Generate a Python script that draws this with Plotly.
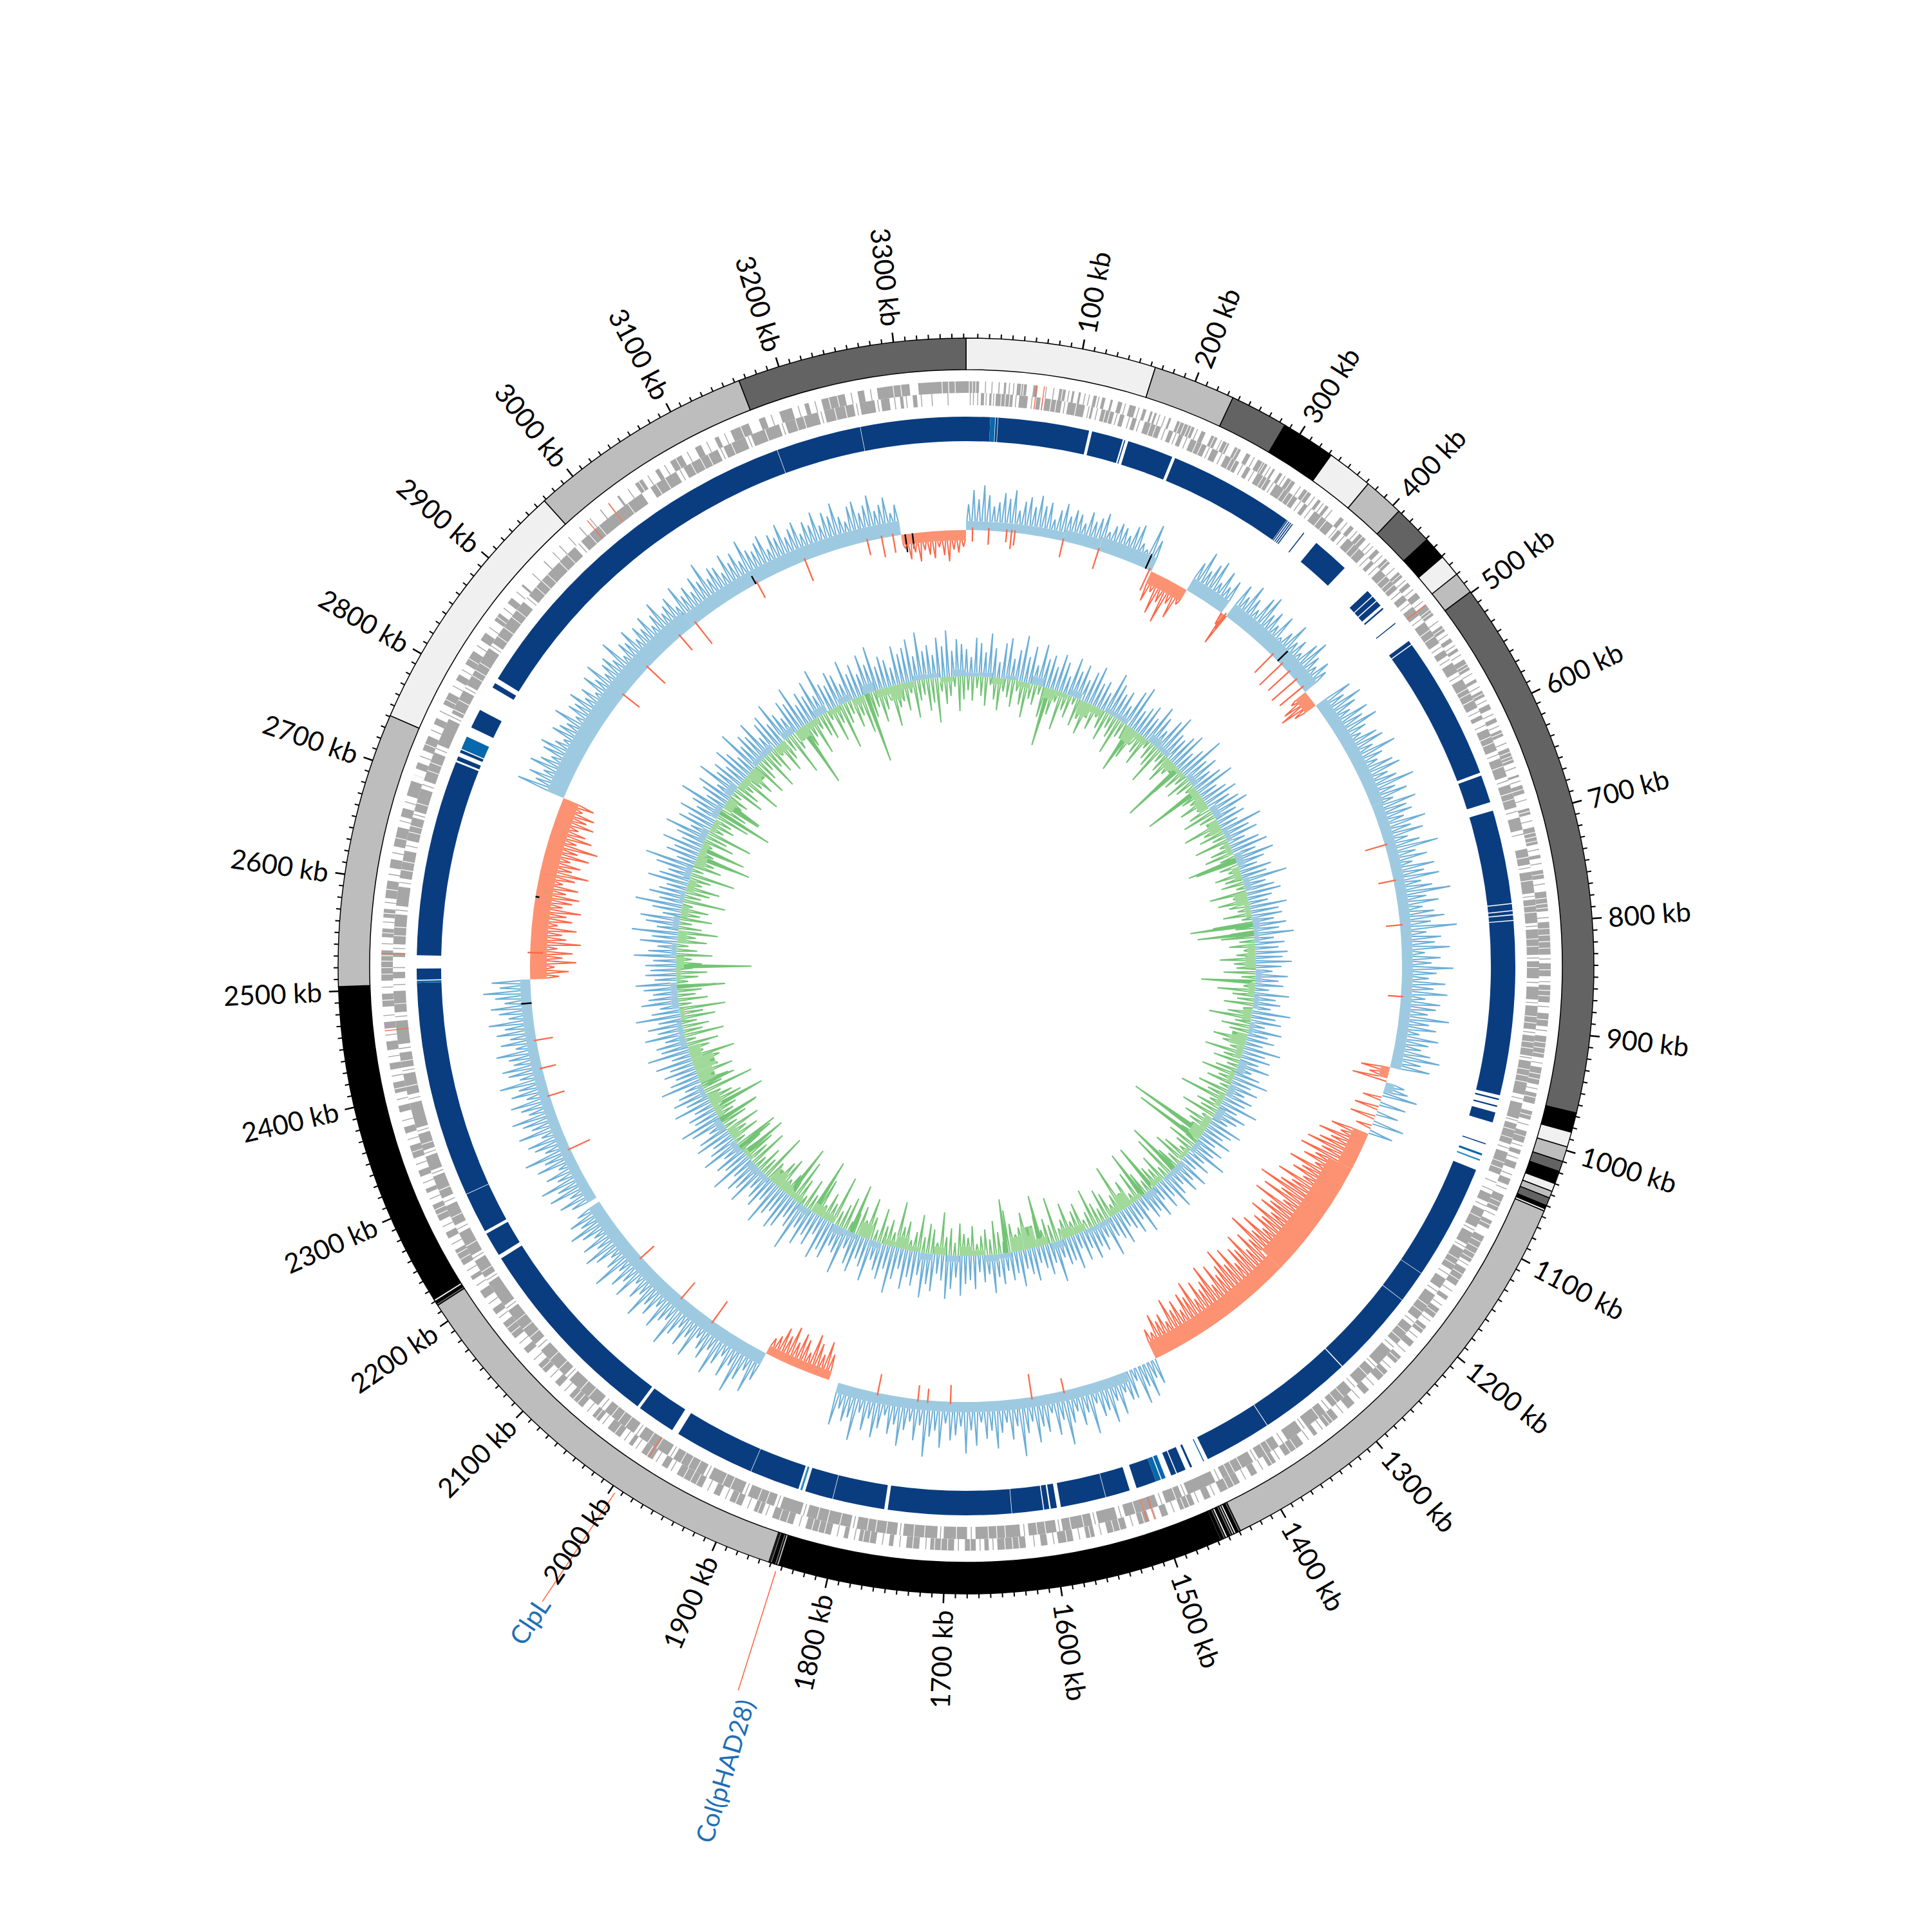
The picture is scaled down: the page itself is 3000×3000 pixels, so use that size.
import math
import plotly.graph_objects as go

GENOME_KB = 3362
TICK_MAJOR_KB = list(range(100, 3301, 100))
TICK_MINOR_KB = [k for k in range(0, 3362, 10) if k % 100]

RING_EDGES = [0,164,235,285,332,372,407,441,461,480,499,967,984,997,1010,1019,1030,1037,1043,1050,1053,1055,
              1439,1441,1443,1445,1447,1449,1451,1453,1455,1457,1458,1843,1845,1847,1849,1851,1852,
              2216,2218,2220,2222,2504,2741,2968,3164,3362]
RING_SHADE = [0,1,2,3,0,1,2,3,0,1,2,3,0,1,2,3,0,1,2,3,0,1,
              2,3,0,1,2,3,0,2,3,0,3,1,2,3,2,0,1,
              2,3,0,3,1,0,1,2]
RING_COLORS = ["#f0f0f0", "#bdbdbd", "#636363", "#000000"]

GENES_OUT = [0,12,30,31,35,37,47,56,62,66,86,92,98,100,104,106,118,121,126,129,134,136,141,145,152,158,165,168,172,174,176,178,190,192,198,215,222,226,232,238,244,250,256,262,268,272,280,290,296,298,303,306,312,320,330,338,346,349,355,358,372,376,384,388,395,403,416,420,428,434,445,451,458,462,470,476,484,496,508,514,522,526,533,536,545,556,566,569,578,584,592,597,606,610,618,624,636,650,662,664,672,680,694,700,712,728,738,741,752,760,772,790,800,830,838,850,858,874,884,896,905,925,934,950,958,968,975,983,994,1005,1012,1016,1024,1030,1040,1046,1056,1072,1082,1090,1098,1125,1132,1150,1162,1166,1176,1186,1196,1204,1214,1220,1232,1240,1250,1262,1274,1280,1292,1300,1312,1326,1336,1340,1352,1372,1382,1390,1402,1408,1420,1440,1450,1456,1466,1480,1492,1498,1510,1520,1532,1550,1562,1570,1582,1596,1606,1612,1626,1652,1660,1664,1672,1682,1692,1714,1724,1736,1748,1752,1764,1780,1790,1794,1806,1830,1842,1862,1872,1880,1892,1904,1914,1920,1932,1958,1968,1974,1984,1996,2006,2010,2020,2034,2044,2052,2064,2080,2092,2098,2110,2120,2134,2140,2152,2170,2180,2186,2198,2206,2218,2222,2234,2250,2262,2268,2280,2296,2308,2312,2324,2330,2342,2354,2366,2372,2386,2392,2404,2414,2426,2432,2444,2452,2464,2470,2484,2496,2508,2536,2548,2556,2566,2574,2584,2600,2612,2620,2632,2650,2660,2668,2680,2694,2706,2712,2724,2738,2750,2756,2770,2782,2795,2801,2812,2826,2838,2846,2860,2868,2880,2886,2900,2902,2930,2931,2950,2951,2975,2976,3000,3001,3020,3022,3040,3048,3062,3066,3078,3090,3104,3110,3124,3128,3140,3158,3168,3174,3188,3200,3212,3216,3228,3250,3262,3268,3280,3310,3318,3362]
GENES_IN = [14,17,22,24,28,44,50,58,66,70,74,90,96,112,118,120,128,140,146,150,158,162,170,186,194,198,204,208,216,232,238,244,252,266,274,278,286,300,306,330,338,342,350,372,378,382,390,412,420,424,432,456,464,470,478,488,496,520,528,534,542,552,560,590,598,602,612,634,642,660,668,690,700,712,730,745,752,772,778,800,806,830,836,852,860,872,878,900,906,925,930,962,970,985,990,1010,1018,1040,1060,1068,1076,1094,1100,1112,1118,1140,1150,1160,1168,1196,1204,1226,1234,1252,1258,1278,1286,1310,1318,1340,1346,1362,1372,1394,1400,1432,1440,1468,1474,1490,1498,1530,1538,1556,1562,1590,1596,1622,1630,1672,1680,1702,1708,1740,1746,1784,1790,1832,1838,1858,1864,1890,1896,1930,1936,1968,1974,2006,2012,2046,2054,2090,2096,2128,2136,2176,2182,2208,2214,2232,2238,2262,2270,2290,2298,2320,2326,2340,2346,2362,2368,2392,2400,2420,2426,2440,2448,2470,2478,2498,2510,2516,2530,2534,2542,2570,2578,2596,2604,2630,2640,2662,2668,2690,2698,2726,2734,2760,2766,2790,2796,2836,2842,2890,2898,2960,2968,3040,3050,3078,3086,3122,3128,3150,3156,3184,3190,3222,3228,3256,3262,3276,3282,3290,3300,3303,3312,3316]
GENE_CUTS_OUT = [3,6,9,51,53,89,201,205,209,212,235,248,259,285,287,316,334,399,431,448,490,493,511,550,553,581,621,640,644,647,676,697,717,721,725,756,778,783,787,806,812,818,824,844,863,868,890,911,916,921,940,945,962,979,999,1063,1068,1086,1104,1110,1116,1121,1138,1144,1181,1200,1236,1255,1318,1322,1360,1366,1386,1426,1432,1471,1476,1515,1538,1544,1566,1588,1632,1638,1645,1677,1698,1704,1710,1730,1770,1776,1812,1818,1824,1848,1855,1876,1898,1938,1944,1951,1990,2026,2048,2070,2075,2115,2158,2164,2240,2246,2286,2291,2348,2408,2490,2514,2520,2526,2531,2552,2570,2592,2640,2700,2730,2775,2818,2864,3044,3084,3150,3235,3243,3295,3302,3340,3346,3352]
GENE_CUTS_IN = [33,37,41,80,85,104,132,136,176,181,222,227,258,262,292,296,315,320,325,358,364,398,404,440,446,451,505,512,570,575,582,620,626,650,676,682,720,738,760,784,790,815,822,842,888,894,912,918,938,944,950,996,1004,1028,1034,1084,1128,1134,1180,1188,1212,1220,1266,1296,1304,1326,1380,1386,1412,1420,1426,1480,1512,1520,1570,1582,1606,1614,1644,1652,1660,1690,1720,1730,1756,1766,1774,1800,1812,1822,1872,1880,1908,1916,1944,1952,1960,1986,1996,2022,2030,2038,2066,2076,2104,2116,2144,2154,2164,2220,2248,2278,2306,2352,2408,2432,2486,2550,2558,2612,2620,2648,2654,2676,2708,2716,2770,2780,2806,2812,2820,2850,2860,2872,2880,2908,2916,2924,2940,2950,2978,2990,3010,3024,3056,3066,3094,3104,3112,3136,3170,3200,3208,3238,3248]
GENE_THIN_OUT = [18,24,40,44,74,81,95,110,114,123,148,161,181,186,218,242,276,293,309,326,342,352,362,380,392,408,412,424,440,455,466,480,503,518,530,540,560,574,588,602,614,631,655,668,686,706,733,746,765,796,834,855,878,900,930,954,988,1008,1020,1036,1050,1076,1128,1156,1172,1190,1209,1226,1246,1268,1286,1306,1330,1346,1378,1396,1414,1446,1462,1486,1504,1526,1556,1576,1600,1618,1656,1668,1688,1718,1742,1758,1784,1800,1836,1868,1886,1908,1926,1964,1980,2002,2015,2040,2058,2086,2104,2126,2146,2176,2192,2212,2228,2256,2274,2302,2318,2336,2360,2378,2398,2420,2438,2458,2476,2502,2542,2562,2580,2606,2626,2656,2674,2700,2718,2744,2763,2776,2789,2806,2832,2852,2874,2893,2915,2942,2962,2988,3010,3032,3054,3072,3096,3116,3134,3180,3206,3222,3256,3274,3288,3296,3304]
GENE_THIN_IN = [4,7,11,19,26,47,62,72,93,116,124,143,155,165,190,201,212,235,248,270,282,303,334,346,376,386,416,428,460,474,492,524,538,556,594,608,638,664,694,716,748,775,803,833,856,875,903,927,966,987,1014,1048,1056,1072,1097,1115,1145,1164,1200,1230,1255,1282,1314,1343,1367,1397,1436,1471,1494,1534,1559,1593,1626,1676,1705,1743,1787,1835,1861,1893,1933,1971,2009,2050,2093,2132,2179,2211,2235,2266,2294,2323,2343,2365,2396,2423,2444,2474,2504,2520,2538,2574,2600,2635,2665,2694,2730,2763,2793,2839,2855,2870,2895,2905,2925,2945,2965,3000,3030,3056,3082,3125,3153,3187,3225,3259,3279,3295,3306,3320,3330,3345]
GENE_TOMATO_KB = [65, 72, 484, 1505, 1512, 1988, 2533, 2462, 2985, 3010]

BLUE_RING = [0,23.7,29,31,31.5,121,124,155,156.5,157.5,160.5,206,209,333.6,334,335,336,337,338,339,340,341,354,355,370,407,
             438.6,445,446,451,452,457.6,460.5,462,479.5,480.5,501.6,505.5,506.5,648,651,678.4,687,779,780,786,787,790,791,795.6,796.5,967.7,
             971,972.5,978,979.5,985,995,1016.5,1017.5,1044,1158,1158.5,1190,1190.5,1277,1278,1370,1370.7,1437,1454,1456,1461,1470,1471,1476,
             1492,1512,1519,1543,1543.5,1588,1592,1598,1599.5,1604.5,1605.5,1636,1636.5,1757.6,1761,1812,1812.5,1840,1847,1896,1896.5,1976,
             1983,2021,2024,2221,2225,2249,2252,2292,2292.5,2505,2508,2519,2532,2725,2727,2731,2735,2738,2762,2781,2806,2811,2816,3174,3174.5,3258,3258.5,3362]
MID_RING = [23.7,28.5,1027,1029,1441,1442,1482,1486,1487,1492,2505,2507,2739,2752]
MID_RING2 = [1033,1034.5,1843,1845]

COV_RANGES = [(0,235),(235,284),(284,335),(335,342),(342,477),(477,498),(498,966),(966,985),(985,997),(997,1052),
              (1052,1440),(1440,1480),(1480,1840),(1852,1936),(1936,2216),(2222,2505),(2505,2733),(2733,3282),(3282,3362)]
COV_VALUES = [
 [40,62,48,70,55,38,45,60,52,66,35,50,58,44,63,48,55,30,46,58,40,52,47,35,55,42,50,60,33,45,52,48,38,56,62,35,28,72,50],
 [-48,-30,-62,-40,-70,-35,-55,-28],
 [50,72,45,60,70,38,62,40,55],
 [-20,-52],
 [60,45,70,52,38,66,74,48,58,40,63,30,46,68,42,52,35,60,72,50,38,55,44],
 [-30,-48,-58,-38],
 [62,45,70,55,40,66,52,72,48,35,58,64,42,76,50,38,60,68,44,55,80,46,62,36,70,52,58,42,74,48,65,38,55,82,44,60,35,68,50,72,42,58,85,46,64,38,55,70,48,88,40,62,52,75,36,60,46,80,54,42,68,50,72,38,62,56,44,78,48,60,35,66,52,42,58,74,46,62],
 [-45,-30,-55],
 [30,38],
 [55,-30,42,-38,35,-40,50,-25,38],
 [-60,-42,-75,-52,-68,-85,-58,-90,-62,-78,-55,-95,-70,-82,-60,-100,-72,-88,-120,-78,-105,-65,-112,-80,-92,-68,-100,-75,-85,-62,-95,-72,-108,-66,-84,-58,-92,-70,-78,-55,-88,-64,-96,-72,-60,-82,-52,-90,-68,-58,-76,-50,-84,-62,-72,-48,-68,-56,-78,-44,-60,-52,-66,-40,-48],
 [40,28,55,35,60,20,45],
 [45,30,62,38,70,48,55,32,78,42,60,36,52,85,44,66,30,58,48,72,38,55,90,42,62,35,50,74,46,58,32,68,44,80,38,52,60,34,72,46,56,88,40,64,36,50,76,44,60,32,54,70,42,62,36,82,48,56,38,66],
 [-40,-58,-35,-50,-62,-30,-48,-55,-38,-60,-42,-52,-35,-28],
 [48,72,40,60,85,45,68,38,56,78,42,62,50,36,74,46,66,40,58,82,44,52,70,38,60,48,76,42,55,34,68,46,62,40,80,50,36,58,72,44,64,38,54,70,46,60,42],
 [42,58,36,66,48,72,40,55,30,62,46,75,38,52,60,34,68,44,56,70,40,50,64,36,58,44,72,38,54,62,42,48,66,34,56,40,60,46,70,38,52,64,42,56,74,48,60],
 [-45,-60,-38,-72,-50,-66,-42,-78,-55,-48,-70,-40,-62,-52,-74,-44,-58,-68,-46,-64,-38,-56,-76,-48,-60,-42,-70,-50,-80,-44,-66,-54,-40,-62,-48,-58,-36,-52],
 [78,52,66,46,72,58,44,62,70,50,40,64,56,48,74,42,60,54,68,46,58,38,66,50,72,44,56,62,48,76,40,58,52,68,44,60,50,66,42,56,72,46,54,62,40,70,48,58,44,64,52,78,46,60,56,42,68,50,62,44,74,54,48,58,66,40,60,52,70,46,56,64,42,58,50,68,44,62,54,72,48,38,60,66,46,56,70,44,52,62,36,48],
 [-22,-40,-30,-45,-28,-36,-42,-25,-38,-48,-30,-35,-26],
]
COV_FILL_START = [0,120,165,235,284,335,342,477,498,640,966,985,1052,1100,1250,1480,1852,1936,2222,2505,2733,3000,3282]
COV_FILL_END = [120,165,235,284,335,342,477,498,640,966,980,997,1100,1250,1440,1840,1936,2216,2505,2733,3000,3282,3362]
COV_FILL_LEVEL = [14,18,22,-20,22,-12,24,-20,20,17,-14,14,-25,-40,-28,16,-14,20,16,-26,28,22,-16]
COV_DIP_KB = [8,28,50,56,60,120,165,232,340,416,432,445,458,470,690,735,790,878,1560,1600,1700,1728,1740,1790,2012,2060,2130,2290,2360,2395,2430,2538,2880,2925,2980,3005,3095,3160,3240,3258,3272]
COV_DIP_DEPTH = [22,26,20,30,24,30,34,38,30,42,50,46,52,48,36,28,26,24,24,40,30,22,26,34,42,34,30,38,28,26,30,24,34,40,32,44,30,38,26,34,30]
COV_BLACK_KB = [227,426,2476,3093,3287,3296,2607]
COV_BLACK_LEN = [25,22,18,14,-28,-24,-6]

GC_UP_Q1 = [42,30,60,52,38,68,46,25,55,64,33,48,72,40,58,30,65,44,52,36,58,48,28,60,42,55,34,50,62,38,45,30,66,52,40,48,28,58,70,34,44,52,36,62,48,30,55,68,42,38,50,60,32,46,74,40,52,34,48,64,30,42,55,38,50,60,36,46,30,66,42,52,28,48,58,36,62,44,30,50,40,70,34,46,54,38,30,58,44,48,34,52,40,62,30,46,36,50,42,56]
GC_UP_Q2 = [40,26,50,36,44,22,54,34,42,28,60,38,48,24,52,32,44,28,58,36,46,30,50,24,40,56,32,46,28,44,36,60,30,48,38,26,54,42,32,50,28,46,36,62,30,44,26,52,34,48,28,40,58,32,46,26,50,36,42,24,56,30,48,36,28,52,40,32,60,26,44,34,50,30,46,24,54,38,42,28,64,32,48,36,26,52,40,30,56,34,44,28,48,36,60,30,42,26,52,38]
GC_UP_Q3 = [44,62,34,52,68,40,30,58,48,70,36,54,42,62,32,50,74,38,56,44,30,66,46,36,60,50,28,72,42,34,58,48,66,30,52,40,60,36,78,44,32,54,62,38,48,70,34,52,42,30,64,46,56,36,70,40,50,30,62,44,34,58,48,26,52,66,38,44,30,60,36,54,42,28,64,46,34,50,38,58,30,66,42,48,32,62,40,54,36,70,44,30,58,46,38,52,64,34,48,40]
GC_UP_Q4 = [48,36,66,44,30,58,40,72,34,52,62,28,46,74,38,56,42,32,64,48,36,58,78,30,50,40,62,34,46,68,30,54,42,60,36,48,72,32,44,56,28,66,40,50,34,60,46,30,70,38,52,44,62,28,48,56,36,66,42,30,54,46,68,34,50,40,60,32,72,44,38,56,48,30,64,40,52,34,62,44,70,36,50,42,28,60,46,54,66,38,74,44,52,36,62,48,72,40,58,50]
GC_DOWN_Q1 = [22,38,18,30,45,12,34,50,20,28,42,16,36,55,24,32,14,48,28,40,18,60,26,36,12,44,30,52,20,38,14,30,46,22,34,58,26,16,40,50,20,32,48,14,28,36,62,18,30,44,24,12,52,34,20,40,28,16,56,32,22,44,18,36,50,26,14,60,30,40,22,54,16,34,46,24,66,30,18,42,28,36,14,58,22,48,32,20,44,16,62,28,36,52,24,40,18,30,56,34]
GC_DOWN_Q2 = [30,50,22,40,18,58,34,26,46,14,38,66,24,44,30,16,52,36,22,60,28,42,18,34,54,24,40,16,48,30,72,20,38,28,56,18,44,32,24,62,34,20,46,28,16,40,52,22,36,30,68,18,44,26,34,58,20,38,30,48,16,42,24,76,30,18,40,50,22,34,60,26,16,46,36,22,54,30,18,70,28,40,24,48,32,20,58,36,26,44,66,18,34,52,24,40,30,18,46,28]
GC_DOWN_Q3 = [34,50,20,42,28,66,18,38,46,24,58,30,16,44,34,72,22,40,28,54,18,36,64,26,46,32,16,52,38,24,78,30,44,20,60,34,26,48,16,40,68,28,36,22,54,44,18,32,76,28,42,20,62,34,50,24,38,70,18,46,30,56,22,42,66,28,36,18,52,40,24,80,32,46,20,58,36,26,44,70,22,34,50,16,62,30,42,24,54,36,72,20,46,28,38,60,18,34,48,26]
GC_DOWN_Q4 = [40,24,56,32,18,46,28,62,36,20,50,30,42,16,66,26,38,52,22,34,70,18,44,30,58,24,40,16,48,34,72,22,36,28,54,18,42,62,26,32,16,50,38,24,66,30,44,18,56,34,22,60,28,42,16,50,34,24,68,30,18,46,38,26,58,20,36,44,16,54,28,72,34,22,46,30,60,18,40,26,52,34,20,64,36,28,44,18,58,32,24,50,38,70,22,42,30,16,54,36]
GC_BIG_KB = [155,325,439,493,640,764,780,870,1170,1185,1254,1307,1330,1540,1606,1899,1978,2033,2145,2160,2222,2248,2296,2483,2521,2729,2745,2820,2840,3040,3174]
GC_BIG_LEN = [92,77,102,92,78,98,88,84,127,110,85,77,78,80,84,77,89,87,74,60,63,86,55,75,117,86,72,88,62,101,110]
GC_FILL = [6,7,-10,6,-8,12,-16,-7,10,-22,-11,7,8,-24,-10,13,8,-15,-7,10,-12,-16,11,-18,8,-8,12,-11,10,-20,-8,11,7,-12,-16,10,-10,8,-14,7,-24,-10,12,-7,10,-8,12,-11,-20,8,-6,10,7,-8,11,-7,-24,-10,8,7,-11,-15,11,-12,-34,-22,8,11,-8,-14,10,-12,11,-7,-18,-8,10,-22,8,12,-11,-16,10,-10,-15,-24,8,11,-7,10,-14,11,-10,-18,8,-26,-34,-18,10,8,-7,11,10,-7,-12,8,-14,10,-11,7,-12,10,-16,-10,11,-8,10,-15,12,-11,-22,8,10,-14,11,-18,-10,12,-8,10,-11,14,-12,-22,-10,8,7,-8,11]

CLPL_KB, COL_KB = 1995.6, 1844
CLPL_LABEL_KB, COL_LABEL_KB = 1995.6, 1837
LABEL_TEXT = ["ClpL", "Col(pHAD28)"]

def th(k):
    return k / GENOME_KB * 360

def pairs(flat):
    return list(zip(flat[0::2], flat[1::2]))

def bar_trace(starts, ends, r0s, r1s, color, line=None):
    if not isinstance(r0s, list):
        r0s = [r0s] * len(starts)
    if not isinstance(r1s, list):
        r1s = [r1s] * len(starts)
    return go.Barpolar(
        theta=[th((a + b) / 2) for a, b in zip(starts, ends)],
        width=[th(b - a) for a, b in zip(starts, ends)],
        base=r0s, r=[b - a for a, b in zip(r0s, r1s)],
        marker=dict(color=color, line=line or dict(width=0)), opacity=1, hoverinfo="skip", showlegend=False)

def spike_trace(kb, base, vals, color, deg):
    lo = [base + min(v, 0) for v in vals]
    hi = [base + max(v, 0) for v in vals]
    return go.Barpolar(theta=[th(k) for k in kb], width=[deg] * len(kb), base=lo,
                       r=[h - l for h, l in zip(hi, lo)],
                       marker=dict(color=color, line=dict(width=0)), hoverinfo="skip", showlegend=False)

def ray_trace(kb, r0, r1, color, w):
    t, r = [], []
    for k in kb:
        t += [th(k), th(k), None]
        r += [r0, r1, None]
    return go.Scatterpolar(theta=t, r=r, mode="lines", line=dict(color=color, width=w), hoverinfo="skip", showlegend=False)

def saw_trace(kb, base, vals, half, level, color, w, fill=False):
    t, r = [], []
    for k, v in zip(kb, vals):
        t += [th(k - half), th(k), th(k + half), None]
        r += [base + level(k - half, v), base + v, base + level(k + half, v), None]
    d = dict(theta=t, r=r, mode="lines", line=dict(color=color, width=w), hoverinfo="skip", showlegend=False)
    if fill:
        d.update(fill="toself", fillcolor=color)
    return go.Scatterpolar(**d)

fig = go.Figure()

# ideogram
fig.add_trace(bar_trace(RING_EDGES[:-1], RING_EDGES[1:], 926, 975, [RING_COLORS[s] for s in RING_SHADE],
                        dict(color="#000000", width=1.5)))
fig.add_trace(ray_trace(TICK_MINOR_KB, 975, 982, "#000000", 2))
fig.add_trace(ray_trace(TICK_MAJOR_KB, 975, 990, "#000000", 2.5))

# genes
for flat, thin, cuts, r0, r1 in [(GENES_OUT, GENE_THIN_OUT, GENE_CUTS_OUT, 890, 908), (GENES_IN, GENE_THIN_IN, GENE_CUTS_IN, 871, 890)]:
    p = pairs(flat)
    fig.add_trace(bar_trace([a for a, _ in p], [b for _, b in p], r0, r1, "#a6a6a6"))
    fig.add_trace(ray_trace(thin, r0, r1, "#a6a6a6", 1.4))
    fig.add_trace(ray_trace(cuts, r0, r1, "#ffffff", 1.2))
fig.add_trace(ray_trace(GENE_TOMATO_KB, 871, 908, "#fb6a4a", 1.4))

# mapped ring
for flat, col in [(BLUE_RING, "#0a3d80"), (MID_RING, "#0868ac"), (MID_RING2, "#2b8cbe")]:
    p = pairs(flat)
    fig.add_trace(bar_trace([a for a, _ in p], [b for _, b in p], 815, 853, col))

# coverage
COV_BASE = 677

def cov_level(k, v):
    for a, b, l in zip(COV_FILL_START, COV_FILL_END, COV_FILL_LEVEL):
        if a <= k < b and l * v > 0:
            return l
    return 0

up = [i for i, v in enumerate(COV_FILL_LEVEL) if v > 0]
dn = [i for i, v in enumerate(COV_FILL_LEVEL) if v < 0]
fig.add_trace(bar_trace([COV_FILL_START[i] for i in up], [COV_FILL_END[i] for i in up], COV_BASE,
                        [COV_BASE + COV_FILL_LEVEL[i] for i in up], "#9ecae1"))
fig.add_trace(bar_trace([COV_FILL_START[i] for i in dn], [COV_FILL_END[i] for i in dn],
                        [COV_BASE + COV_FILL_LEVEL[i] for i in dn], COV_BASE, "#fc9272"))
pos_k, pos_v, neg_k, neg_v, half = [], [], [], [], 0
for (a, b), vals in zip(COV_RANGES, COV_VALUES):
    half = (b - a) / len(vals) / 2
    for i, v in enumerate(vals):
        k = a + (2 * i + 1) * half
        if v > 0:
            pos_k.append(k); pos_v.append(v)
        else:
            neg_k.append(k); neg_v.append(v)
fig.add_trace(saw_trace(pos_k, COV_BASE, pos_v, 2.0, cov_level, "#6baed6", 2))
fig.add_trace(saw_trace(neg_k, COV_BASE, neg_v, 2.0, cov_level, "#fb6a4a", 2))
fig.add_trace(spike_trace(COV_DIP_KB, COV_BASE + 4, [-d for d in COV_DIP_DEPTH], "#fb6a4a", 0.2))
fig.add_trace(spike_trace(COV_BLACK_KB, COV_BASE, COV_BLACK_LEN, "#000000", 0.2))

# GC track
GC_BASE = 450
gc_up = GC_UP_Q1 + GC_UP_Q2 + GC_UP_Q3 + GC_UP_Q4
gc_dn = GC_DOWN_Q1 + GC_DOWN_Q2 + GC_DOWN_Q3 + GC_DOWN_Q4
n = len(GC_FILL)
w = GENOME_KB / n

def gc_level(k, v):
    l = GC_FILL[int((k % GENOME_KB) / w)]
    return l if l * v > 0 else 0

gu = [i for i, v in enumerate(GC_FILL) if v > 0]
gd = [i for i, v in enumerate(GC_FILL) if v < 0]
fig.add_trace(bar_trace([i * w for i in gu], [(i + 1) * w for i in gu], GC_BASE, [GC_BASE + GC_FILL[i] for i in gu], "#9ecae1"))
fig.add_trace(bar_trace([i * w for i in gd], [(i + 1) * w for i in gd], [GC_BASE + GC_FILL[i] for i in gd], GC_BASE, "#a1d99b"))
fig.add_trace(saw_trace([(i + 0.1) * GENOME_KB / len(gc_up) for i in range(len(gc_up))], GC_BASE, gc_up, 2.0, gc_level, "#6baed6", 2))
fig.add_trace(saw_trace([(i + 0.5) * GENOME_KB / len(gc_dn) for i in range(len(gc_dn))], GC_BASE, [-v for v in gc_dn], 2.0, gc_level, "#74c476", 2))
fig.add_trace(saw_trace(GC_BIG_KB, GC_BASE, [-v for v in GC_BIG_LEN], 3.0, gc_level, "#74c476", 2, fill=True))

# label leader lines
fig.add_trace(ray_trace([CLPL_KB], 983, 1186, "#fb6a4a", 1.6))
fig.add_trace(ray_trace([COL_KB], 985, 1179, "#fb6a4a", 1.6))

def place(kb, r, text, size, color):
    a = th(kb)
    rad = math.radians(a)
    angle = a - 90 if a < 180 else a + 90
    return dict(x=0.5 + r * math.sin(rad) / 3000, y=0.5 + r * math.cos(rad) / 3000, xref="paper", yref="paper",
                text=text, showarrow=False, textangle=angle, xanchor="center", yanchor="middle",
                font=dict(family="Lato", size=size, color=color))

anns = []
for k in TICK_MAJOR_KB:
    txt = f"{k} kb"
    anns.append(place(k, 1005 + (60 if len(txt) == 6 else 72), txt, 42, "#000000"))
anns.append(place(CLPL_LABEL_KB, 1222, LABEL_TEXT[0], 40, "#1f6fb4"))
anns.append(place(COL_LABEL_KB, 1305, LABEL_TEXT[1], 39, "#1f6fb4"))

fig.update_layout(
    width=3000, height=3000, margin=dict(l=0, r=0, t=0, b=0), paper_bgcolor="white", showlegend=False,
    annotations=anns,
    polar=dict(domain=dict(x=[0, 1], y=[0, 1]), bgcolor="white", barmode="overlay",
               radialaxis=dict(range=[0, 1500], visible=False),
               angularaxis=dict(direction="clockwise", rotation=90, visible=False, thetaunit="degrees")),
)
fig.write_html("out.html", config={"displayModeBar": False},
               post_script="document.body.style.margin='0';document.body.style.overflow='hidden';")
